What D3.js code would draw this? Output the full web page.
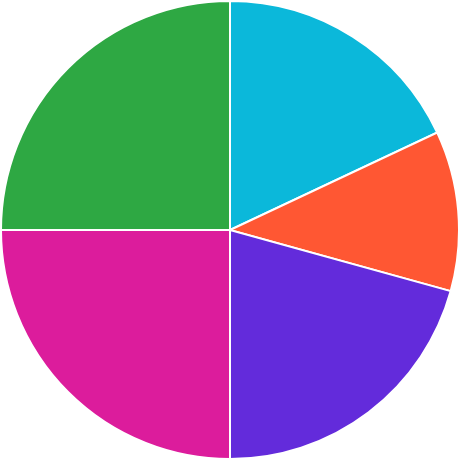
<!DOCTYPE html>
<html>
<head>
<meta charset="utf-8">
<script src="https://cdn.jsdelivr.net/npm/d3@7"></script>
<style>body{margin:0;background:#fff;}</style>
</head>
<body>
<div id="chart"></div>
<script>
const categories = ['A', 'B', 'C', 'D', 'E'];
const values = [18, 11.3, 20.7, 25, 25];
const colors = ['#0bb8da', '#ff5733', '#632bdb', '#dc1c9c', '#2ea843'];

const width = 460, height = 460;
const radius = 229;

const svg = d3.select('#chart').append('svg')
  .attr('width', width)
  .attr('height', height);

const g = svg.append('g').attr('transform', `translate(230,230)`);

const pie = d3.pie().sort(null).value(d => d.value);
const arc = d3.arc().innerRadius(0).outerRadius(radius);

const data = categories.map((c, i) => ({ name: c, value: values[i], color: colors[i] }));

g.selectAll('path')
  .data(pie(data))
  .enter()
  .append('path')
  .attr('d', arc)
  .attr('fill', d => d.data.color)
  .attr('stroke', '#fff')
  .attr('stroke-width', 2);
</script>
</body>
</html>
